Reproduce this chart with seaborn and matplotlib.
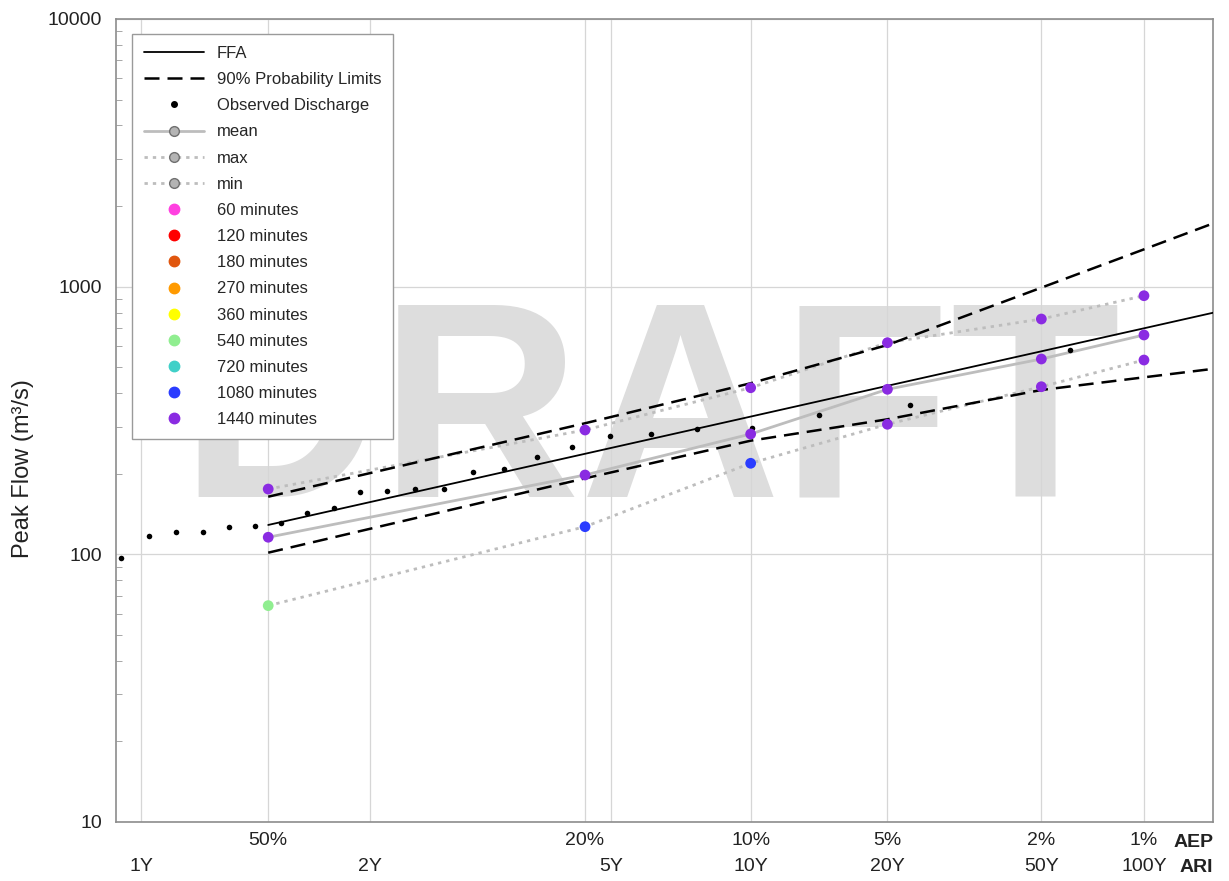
import numpy as np
import pandas as pd
import matplotlib.pyplot as plt
import seaborn as sns
from matplotlib.lines import Line2D
from statistics import NormalDist

# design curves (AEP in %, flow in m3/s)
aep_ffa = [50, 20, 10, 5, 2, 1, 0.5]
ffa = [128.7, 237.4, 326.9, 426.0, 573.2, 698.7, 838.0]
upper = [164.1, 308.7, 435.5, 605.0, 991.0, 1378.0, 1866.0]
lower = [101.4, 192.2, 265.7, 319.4, 411.0, 458.3, 506.0]

# observed annual peaks (plotting position AEP %, flow)
obs_aep = [1.657, 4.420, 7.182, 9.945, 12.71, 15.47, 18.23, 20.99, 23.76, 26.52,
           29.28, 32.04, 34.81, 37.57, 40.33, 43.09, 45.86, 48.62, 51.38, 54.14,
           56.91, 59.67, 62.43, 65.19]
obs_q = [580, 361.8, 331.4, 297, 293, 280.7, 276, 250.6, 230.9, 208.2,
         203, 175, 174.9, 172.8, 170.4, 148.5, 142.3, 131.2, 127.9, 126.8,
         121, 120.8, 117.1, 96.6]

# ensemble results
aep_ens = [50, 20, 10, 5, 2, 1]
q_max = [175.3, 291.3, 419.0, 617.3, 756.8, 924.7]
q_mean = [115.8, 197.8, 281.4, 413.4, 536.5, 659.6]
q_min = [64.3, 126.8, 218.8, 306.0, 422.7, 531.8]
dur_max = ['1440 minutes'] * 6
dur_mean = ['1440 minutes'] * 6
dur_min = ['540 minutes', '1080 minutes', '1080 minutes', '1440 minutes', '1440 minutes', '1440 minutes']

durations = ['60 minutes', '120 minutes', '180 minutes', '270 minutes', '360 minutes',
             '540 minutes', '720 minutes', '1080 minutes', '1440 minutes']
dur_colors = ['#ff40e0', '#ff0000', '#e0560e', '#ff9a00', '#ffff00',
              '#90ee90', '#40d0c8', '#2a3cff', '#8a2be2']

# x ticks: AEP row / ARI row
tick_aep = [63.21, 50, 39.35, 20, 18.13, 10, 5, 2, 1]
tick_labels = ['\n1Y', '50%\n', '\n2Y', '20%\n', '\n5Y', '10%\n10Y', '5%\n20Y', '2%\n50Y', '1%\n100Y']

sns.set_style('white')
plt.rcParams['font.family'] = ['Liberation Sans', 'DejaVu Sans']

nd = NormalDist()
def fwd(p):
    p = np.clip(np.asarray(p, dtype=float), 1e-7, 100 - 1e-7)
    return np.vectorize(lambda v: nd.inv_cdf(1 - v / 100), otypes=[float])(p)
def inv(z):
    z = np.clip(np.asarray(z, dtype=float), -8, 8)
    return np.vectorize(lambda v: (1 - nd.cdf(v)) * 100, otypes=[float])(z)

fig = plt.figure(figsize=(12.29, 8.81), dpi=100)
ax = fig.add_axes([0.0944, 0.067, 0.8926, 0.9115])
ax.set_xscale('function', functions=(fwd, inv))
ax.set_yscale('log')

df_ffa = pd.DataFrame({'aep': aep_ffa, 'ffa': ffa, 'upper': upper, 'lower': lower})
df_obs = pd.DataFrame({'aep': obs_aep, 'q': obs_q})
df_ens = pd.DataFrame({'aep': aep_ens, 'max': q_max, 'mean': q_mean, 'min': q_min})
df_pts = pd.DataFrame({'aep': aep_ens * 3, 'q': q_max + q_mean + q_min,
                       'duration': dur_max + dur_mean + dur_min})

grey = '#bdbdbd'
dot = (0, (1.2, 1.8))
dash = (0, (6, 3.2))

# watermark
ax.text(0.487, 0.405, 'DRAFT', transform=ax.transAxes, ha='center', va='baseline',
        fontsize=200, fontweight='bold', color='#dddddd', zorder=0)

sns.lineplot(data=df_ens, x='aep', y='max', ax=ax, color=grey, lw=2, linestyle=dot,
             estimator=None, sort=False, zorder=2)
sns.lineplot(data=df_ens, x='aep', y='min', ax=ax, color=grey, lw=2, linestyle=dot,
             estimator=None, sort=False, zorder=2)
sns.lineplot(data=df_ens, x='aep', y='mean', ax=ax, color=grey, lw=2,
             estimator=None, sort=False, zorder=2)
sns.lineplot(data=df_ffa, x='aep', y='ffa', ax=ax, color='black', lw=1.3,
             estimator=None, sort=False, zorder=3)
sns.lineplot(data=df_ffa, x='aep', y='upper', ax=ax, color='black', lw=1.8, linestyle=dash,
             estimator=None, sort=False, zorder=3)
sns.lineplot(data=df_ffa, x='aep', y='lower', ax=ax, color='black', lw=1.8, linestyle=dash,
             estimator=None, sort=False, zorder=3)
sns.scatterplot(data=df_obs, x='aep', y='q', ax=ax, color='black', s=16, linewidth=0,
                zorder=4)
sns.scatterplot(data=df_pts, x='aep', y='q', hue='duration', ax=ax,
                palette=dict(zip(durations, dur_colors)), s=60, linewidth=0,
                legend=False, zorder=5)

ax.set_xlim(0.604, 65.7)
ax.set_ylim(10, 10000)
ax.set_xticks(tick_aep)
ax.set_xticklabels(tick_labels, linespacing=1.75)
ax.xaxis.set_minor_locator(plt.NullLocator())
ax.set_yticks([10, 100, 1000, 10000])
ax.set_yticklabels(['10', '100', '1000', '10000'])
ax.tick_params(axis='x', direction='in', length=8, color='#999999', labelsize=14,
               labelcolor='#222222', pad=7)
ax.tick_params(axis='y', which='major', direction='in', length=6, color='#999999',
               labelsize=14, labelcolor='#222222', pad=10)
ax.tick_params(axis='y', which='minor', direction='in', length=4, color='#999999', left=True)
ax.grid(True, which='major', color='#d6d6d6', lw=0.9)
ax.set_axisbelow(True)
for s in ax.spines.values():
    s.set_color('#8c8c8c')
    s.set_linewidth(1.2)

ax.set_xlabel('')
ax.set_ylabel('Peak Flow (m³/s)', fontsize=17, color='#222222')
ax.yaxis.set_label_coords(-0.075, 0.44)

ax.text(1.0, -0.025, 'AEP', transform=ax.transAxes, ha='right', va='center',
        fontsize=14, fontweight='bold', color='#222222')
ax.text(1.0, -0.057, 'ARI', transform=ax.transAxes, ha='right', va='center',
        fontsize=14, fontweight='bold', color='#222222')

handles = [
    Line2D([], [], color='black', lw=1.3, label='FFA'),
    Line2D([], [], color='black', lw=1.8, ls=dash, label='90% Probability Limits'),
    Line2D([], [], ls='none', marker='o', color='black', ms=4, label='Observed Discharge'),
    Line2D([], [], color=grey, lw=2, marker='o', mfc='#b4b4b4', mec='#707070', ms=7, label='mean'),
    Line2D([], [], color=grey, lw=2, ls=dot, marker='o', mfc='#b4b4b4', mec='#707070', ms=7, label='max'),
    Line2D([], [], color=grey, lw=2, ls=dot, marker='o', mfc='#b4b4b4', mec='#707070', ms=7, label='min'),
]
for d, c in zip(durations, dur_colors):
    handles.append(Line2D([], [], ls='none', marker='o', color=c, ms=7.5, label=d))
leg = ax.legend(handles=handles, loc='upper left', bbox_to_anchor=(0.0146, 0.981),
                borderaxespad=0, fontsize=12, labelspacing=0.67, handlelength=3.6,
                handletextpad=0.8, borderpad=0.7, frameon=True, fancybox=False,
                framealpha=1)
leg.get_frame().set_edgecolor('#9a9a9a')
leg.get_frame().set_linewidth(1.0)
leg.set_zorder(10)

plt.savefig('out.png', dpi=100)
